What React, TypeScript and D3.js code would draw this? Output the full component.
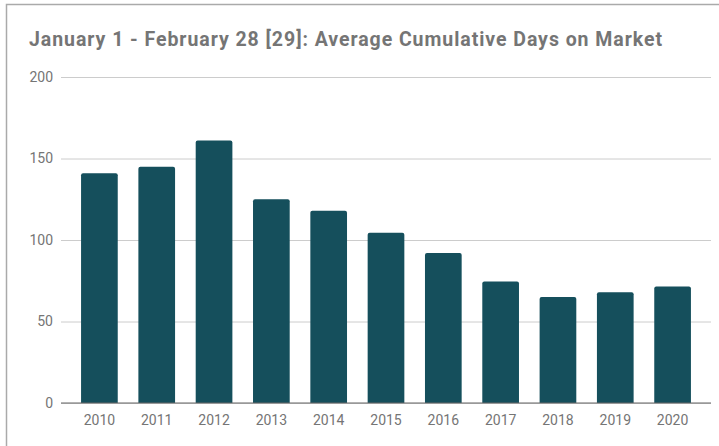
import React, { useRef, useEffect } from 'react';
import * as d3 from 'd3';

const years = ['2010', '2011', '2012', '2013', '2014', '2015', '2016', '2017', '2018', '2019', '2020'];
const avgDays = [141, 145, 161, 125, 118, 104.5, 92, 74.5, 65, 68, 71.5];
const yTicks = [0, 50, 100, 150, 200];

const title = 'January 1 - February 28 [29]: Average Cumulative Days on Market';

const App = () => {
    const chartRef = useRef<HTMLDivElement>(null);

    useEffect(() => {
        d3.select(chartRef.current).select('svg').remove();

        const width = 719, height = 446;
        const left = 61, right = 711, top = 77, bottom = 403;

        const svg = d3.select(chartRef.current)
            .append('svg')
            .attr('width', width)
            .attr('height', height)
            .style('display', 'block')
            .style('font-family', 'Roboto, sans-serif');

        svg.append('rect')
            .attr('width', width)
            .attr('height', height)
            .attr('fill', '#fff');

        // frame (runs off the right and bottom edge)
        svg.append('rect')
            .attr('x', 6.5)
            .attr('y', 4.5)
            .attr('width', width + 20)
            .attr('height', height + 20)
            .attr('fill', 'none')
            .attr('stroke', '#aaa')
            .attr('stroke-width', 1.5);

        svg.append('text')
            .attr('x', 29)
            .attr('y', 45.5)
            .attr('fill', '#757575')
            .attr('textLength', 633)
            .attr('lengthAdjust', 'spacing')
            .style('font-size', '19.5px')
            .style('font-weight', 700)
            .text(title);

        const x = d3.scaleBand()
            .domain(years)
            .range([left, right])
            .paddingInner(0.36)
            .paddingOuter(0.35);

        const y = d3.scaleLinear()
            .domain([0, 200])
            .range([bottom, top]);

        // grid + y labels
        const yAxis = svg.append('g')
            .attr('transform', `translate(${left},0)`)
            .call(d3.axisLeft(y).tickValues(yTicks).tickSize(-(right - left)).tickPadding(8));
        yAxis.select('.domain').remove();
        yAxis.selectAll('line').attr('stroke', '#ccc');
        yAxis.selectAll('text')
            .attr('fill', '#757575')
            .style('font-size', '14px')
            .style('font-family', 'Roboto, sans-serif');

        // bars with small rounded tops
        const r = 2;
        svg.selectAll('path.bar')
            .data(avgDays)
            .enter()
            .append('path')
            .attr('class', 'bar')
            .attr('fill', '#154f5c')
            .attr('d', (d, i) => {
                const x0 = x(years[i]) as number;
                const x1 = x0 + x.bandwidth();
                const y0 = y(d), y1 = y(0);
                return `M${x0},${y1}V${y0 + r}Q${x0},${y0} ${x0 + r},${y0}H${x1 - r}Q${x1},${y0} ${x1},${y0 + r}V${y1}Z`;
            });

        // baseline
        svg.append('line')
            .attr('x1', left)
            .attr('x2', right)
            .attr('y1', y(0))
            .attr('y2', y(0))
            .attr('stroke', '#666')
            .attr('stroke-width', 1.2);

        const xAxis = svg.append('g')
            .attr('transform', `translate(0,${bottom})`)
            .call(d3.axisBottom(x).tickSize(0).tickPadding(12));
        xAxis.select('.domain').remove();
        xAxis.selectAll('text')
            .attr('fill', '#757575')
            .style('font-size', '14px')
            .style('font-family', 'Roboto, sans-serif');
    }, []);

    return <div ref={chartRef} style={{ position: 'fixed', left: 0, top: 0 }} />;
};

export default App;
